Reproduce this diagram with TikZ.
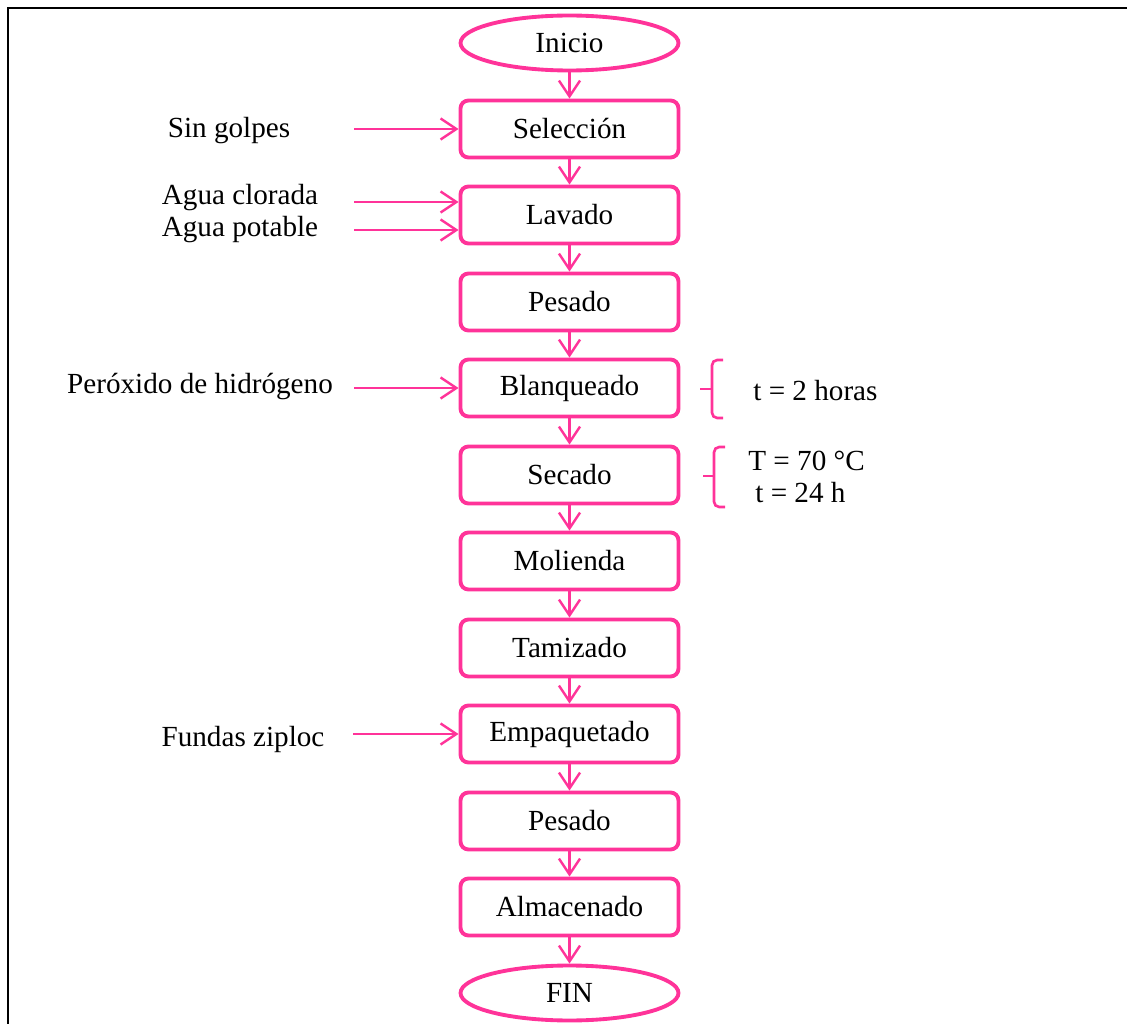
\documentclass[tikz,border=0pt]{standalone}
\usepackage{fontspec}
\setmainfont{Liberation Serif}
\usetikzlibrary{arrows.meta,shapes.geometric}
\definecolor{pk}{RGB}{255,51,153}
\begin{document}
\begin{tikzpicture}[x=0.02cm,y=-0.02cm,
  font=\fontsize{16.6}{20}\selectfont,
  stepbox/.style={draw=pk,line width=2.2pt,rounded corners=4.5pt,minimum width=4.36cm,minimum height=1.14cm,inner sep=0pt},
  termbox/.style={draw=pk,line width=2.2pt,ellipse,minimum width=4.36cm,minimum height=1.1cm,inner sep=0pt},
  flow/.style={draw=pk,line width=1.4pt,-{Straight Barb[length=9pt,width=12pt,line width=1.4pt]}},
  brace/.style={draw=pk,line width=1.5pt,rounded corners=3pt},
  lbl/.style={inner sep=0pt}]
\useasboundingbox (0,0) rectangle (1127,1024);
\draw[line width=1.2pt] (8,1024) -- (8,8) -- (1127,8);
% main column
\node[termbox] (ini) at (569.5,43) {Inicio};
\node[stepbox] (sel) at (569.5,129) {Selección};
\node[stepbox] (lav) at (569.5,215) {Lavado};
\node[stepbox] (pes1) at (569.5,302) {Pesado};
\node[stepbox] (bla) at (569.5,388) {Blanqueado};
\node[stepbox] (sec) at (569.5,475) {Secado};
\node[stepbox] (mol) at (569.5,561) {Molienda};
\node[stepbox] (tam) at (569.5,648) {Tamizado};
\node[stepbox] (emp) at (569.5,734) {Empaquetado};
\node[stepbox] (pes2) at (569.5,821) {Pesado};
\node[stepbox] (alm) at (569.5,907) {Almacenado};
\node[termbox] (fin) at (569.5,993) {FIN};
\foreach \a/\b in {ini/sel,sel/lav,lav/pes1,pes1/bla,bla/sec,sec/mol,mol/tam,tam/emp,emp/pes2,pes2/alm,alm/fin}
  \draw[flow] (\a) -- (\b);
% inputs
\node[lbl] (tsin) at (229,131) {Sin golpes};
\node[lbl] (tagc) at (240,198) {Agua clorada};
\node[lbl] (tagp) at (240,230) {Agua potable};
\node[lbl] (tper) at (200,387) {Peróxido de hidrógeno};
\node[lbl] (tfun) at (243,739) {Fundas ziploc};
\coordinate (i1) at (354,129);
\coordinate (i2) at (354,202);
\coordinate (i3) at (354,230);
\coordinate (i4) at (354,388);
\coordinate (i5) at (353,734);
\draw[flow] (i1) -- (sel.west |- i1);
\draw[flow] (i2) -- (lav.west |- i2);
\draw[flow] (i3) -- (lav.west |- i3);
\draw[flow] (i4) -- (bla.west |- i4);
\draw[flow] (i5) -- (emp.west |- i5);
% braces
\draw[brace] (723,360) -| (712,418) -- (723,418);
\draw[draw=pk,line width=1.5pt] (700,389) -- (713,389);
\node[lbl,anchor=west] (t2h) at (753,391) {t = 2 horas};
\draw[brace] (725,447) -| (714,507) -- (725,507);
\draw[draw=pk,line width=1.5pt] (703,476) -- (715,476);
\node[lbl,anchor=west] (t70) at (748,461) {T = 70 °C};
\node[lbl,anchor=west] (t24) at (755,493) {t = 24 h};
\end{tikzpicture}
\end{document}
